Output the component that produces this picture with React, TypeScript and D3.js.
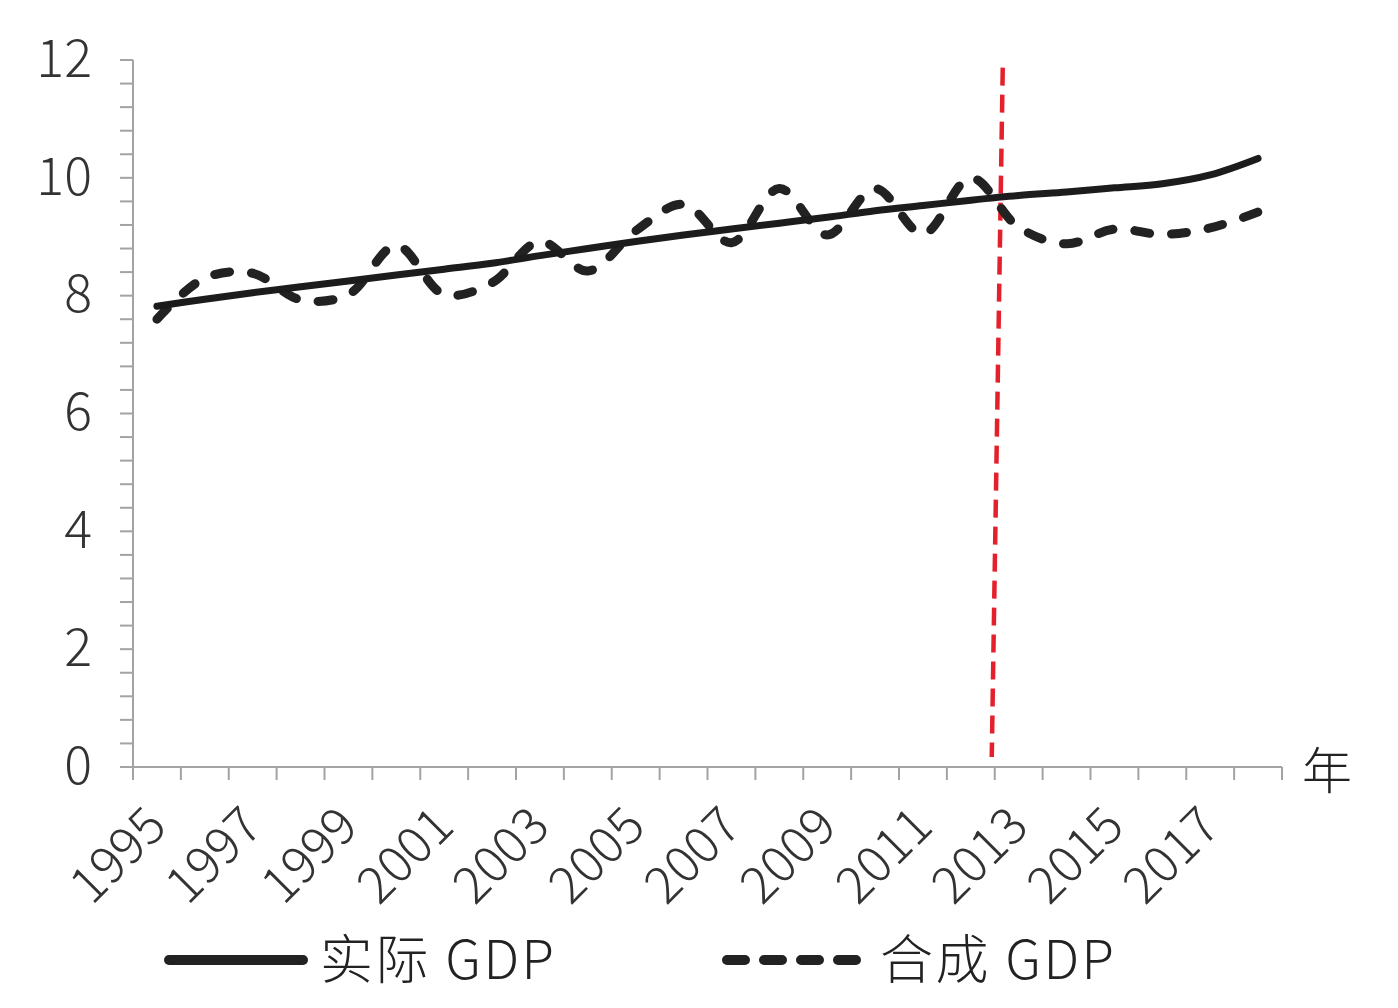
import { useEffect, useRef } from "react";
import * as d3 from "d3";

// years on the category axis
const years = d3.range(1995, 2019);
const labelYears = years.filter((y) => y % 2 === 1);

// 实际 GDP (solid) and 合成 GDP (dashed)
const actualGdp = [
  7.82, 7.94, 8.05, 8.15, 8.25, 8.35, 8.45, 8.55, 8.68, 8.8, 8.92, 9.03,
  9.13, 9.23, 9.33, 9.44, 9.53, 9.62, 9.7, 9.76, 9.83, 9.9, 10.05, 10.33,
];
const syntheticGdp = [
  7.6, 8.3, 8.38, 7.93, 8.02, 8.85, 8.02, 8.22, 8.92, 8.42, 9.1, 9.55,
  8.9, 9.82, 9.03, 9.82, 9.05, 10.0, 9.16, 8.88, 9.13, 9.04, 9.15, 9.42,
];

const yMajorTicks = [0, 2, 4, 6, 8, 10, 12];
const policyYear = 2013;
const legendItems = ["实际 GDP", "合成 GDP"];

const W = 1398;
const H = 1008;
const FONT = '"Noto Sans CJK SC", "Noto Sans", sans-serif';

export default function App() {
  const svgRef = useRef<SVGSVGElement | null>(null);

  useEffect(() => {
    if (!svgRef.current) return;
    const svg = d3.select(svgRef.current);
    svg.selectAll("*").remove();

    const left = 133;
    const right = 1282;
    const top = 60;
    const bottom = 767;

    const x = d3
      .scalePoint<number>()
      .domain(years)
      .range([left, right])
      .padding(0.5);
    const step = x.step();
    const y = d3.scaleLinear().domain([0, 12]).range([bottom, top]);

    svg.append("rect").attr("width", W).attr("height", H).attr("fill", "#ffffff");

    const axisColor = "#a3a3a3";

    // y axis line + ticks every 0.4
    svg
      .append("line")
      .attr("x1", left)
      .attr("x2", left)
      .attr("y1", y(12))
      .attr("y2", y(0))
      .attr("stroke", axisColor)
      .attr("stroke-width", 2);
    const minor = d3.range(0, 30.5).map((i) => i * 0.4);
    svg
      .append("g")
      .selectAll("line")
      .data(minor)
      .join("line")
      .attr("x1", left - 13)
      .attr("x2", left)
      .attr("y1", (d) => y(d))
      .attr("y2", (d) => y(d))
      .attr("stroke", axisColor)
      .attr("stroke-width", 2);
    svg
      .append("g")
      .selectAll("text")
      .data(yMajorTicks)
      .join("text")
      .attr("x", left - 41)
      .attr("y", (d) => y(d) - 2)
      .attr("dy", "0.36em")
      .attr("text-anchor", "end")
      .attr("font-family", FONT)
      .attr("font-weight", 300)
      .attr("font-size", 52)
      .attr("fill", "#333")
      .text((d) => d);

    // x axis line + ticks at category boundaries
    svg
      .append("line")
      .attr("x1", left - 13)
      .attr("x2", right)
      .attr("y1", bottom)
      .attr("y2", bottom)
      .attr("stroke", axisColor)
      .attr("stroke-width", 2);
    const bounds = years.map((yr) => (x(yr) as number) - step / 2).concat([right]);
    svg
      .append("g")
      .selectAll("line")
      .data(bounds)
      .join("line")
      .attr("x1", (d) => d)
      .attr("x2", (d) => d)
      .attr("y1", bottom)
      .attr("y2", bottom + 13)
      .attr("stroke", axisColor)
      .attr("stroke-width", 2);
    svg
      .append("g")
      .selectAll("text")
      .data(labelYears)
      .join("text")
      .attr(
        "transform",
        (d) => `translate(${(x(d) as number) - 1},${bottom + 49}) rotate(-45)`
      )
      .attr("text-anchor", "end")
      .attr("dy", "0.36em")
      .attr("font-family", FONT)
      .attr("font-weight", 300)
      .attr("font-size", 51)
      .attr("fill", "#333")
      .text((d) => d);

    svg
      .append("text")
      .attr("x", right + 20)
      .attr("y", bottom + 22)
      .attr("font-family", FONT)
      .attr("font-weight", 300)
      .attr("font-size", 50)
      .attr("fill", "#222")
      .text("年");

    // red marker between 2012 and 2013 (drawn slightly skewed, as in the source)
    const xPolicy = (x(policyYear) as number) - step / 2;
    svg
      .append("line")
      .attr("x1", xPolicy + 8)
      .attr("y1", y(11.87))
      .attr("x2", xPolicy - 3)
      .attr("y2", y(0.17))
      .attr("stroke", "#e3202b")
      .attr("stroke-width", 4.5)
      .attr("stroke-dasharray", "18,9");

    const line = d3
      .line<number>()
      .x((_, i) => x(years[i]) as number)
      .y((d) => y(d))
      .curve(d3.curveCatmullRom.alpha(0.5));

    svg
      .append("path")
      .attr("d", line(syntheticGdp))
      .attr("fill", "none")
      .attr("stroke", "#222")
      .attr("stroke-width", 9)
      .attr("stroke-linecap", "round")
      .attr("stroke-dasharray", "15,22");

    svg
      .append("path")
      .attr("d", line(actualGdp))
      .attr("fill", "none")
      .attr("stroke", "#1c1c1c")
      .attr("stroke-width", 7)
      .attr("stroke-linecap", "round");

    // legend
    const ly = 960;
    const lg = svg.append("g");
    lg.append("line")
      .attr("x1", 169)
      .attr("x2", 303)
      .attr("y1", ly)
      .attr("y2", ly)
      .attr("stroke", "#222")
      .attr("stroke-width", 10)
      .attr("stroke-linecap", "round");
    lg.append("text")
      .attr("x", 320)
      .attr("y", ly)
      .attr("dy", "0.36em")
      .attr("font-family", FONT)
      .attr("font-weight", 300)
      .attr("font-size", 53)
      .attr("letter-spacing", 2.5)
      .attr("fill", "#222")
      .text(legendItems[0]);
    lg.append("line")
      .attr("x1", 727)
      .attr("x2", 858)
      .attr("y1", ly)
      .attr("y2", ly)
      .attr("stroke", "#222")
      .attr("stroke-width", 10)
      .attr("stroke-linecap", "round")
      .attr("stroke-dasharray", "18,19");
    lg.append("text")
      .attr("x", 880)
      .attr("y", ly)
      .attr("dy", "0.36em")
      .attr("font-family", FONT)
      .attr("font-weight", 300)
      .attr("font-size", 53)
      .attr("letter-spacing", 2.5)
      .attr("fill", "#222")
      .text(legendItems[1]);
  }, []);

  return (
    <div style={{ position: "absolute", left: 0, top: 0 }}>
      <svg ref={svgRef} width={W} height={H} style={{ display: "block" }} />
    </div>
  );
}
